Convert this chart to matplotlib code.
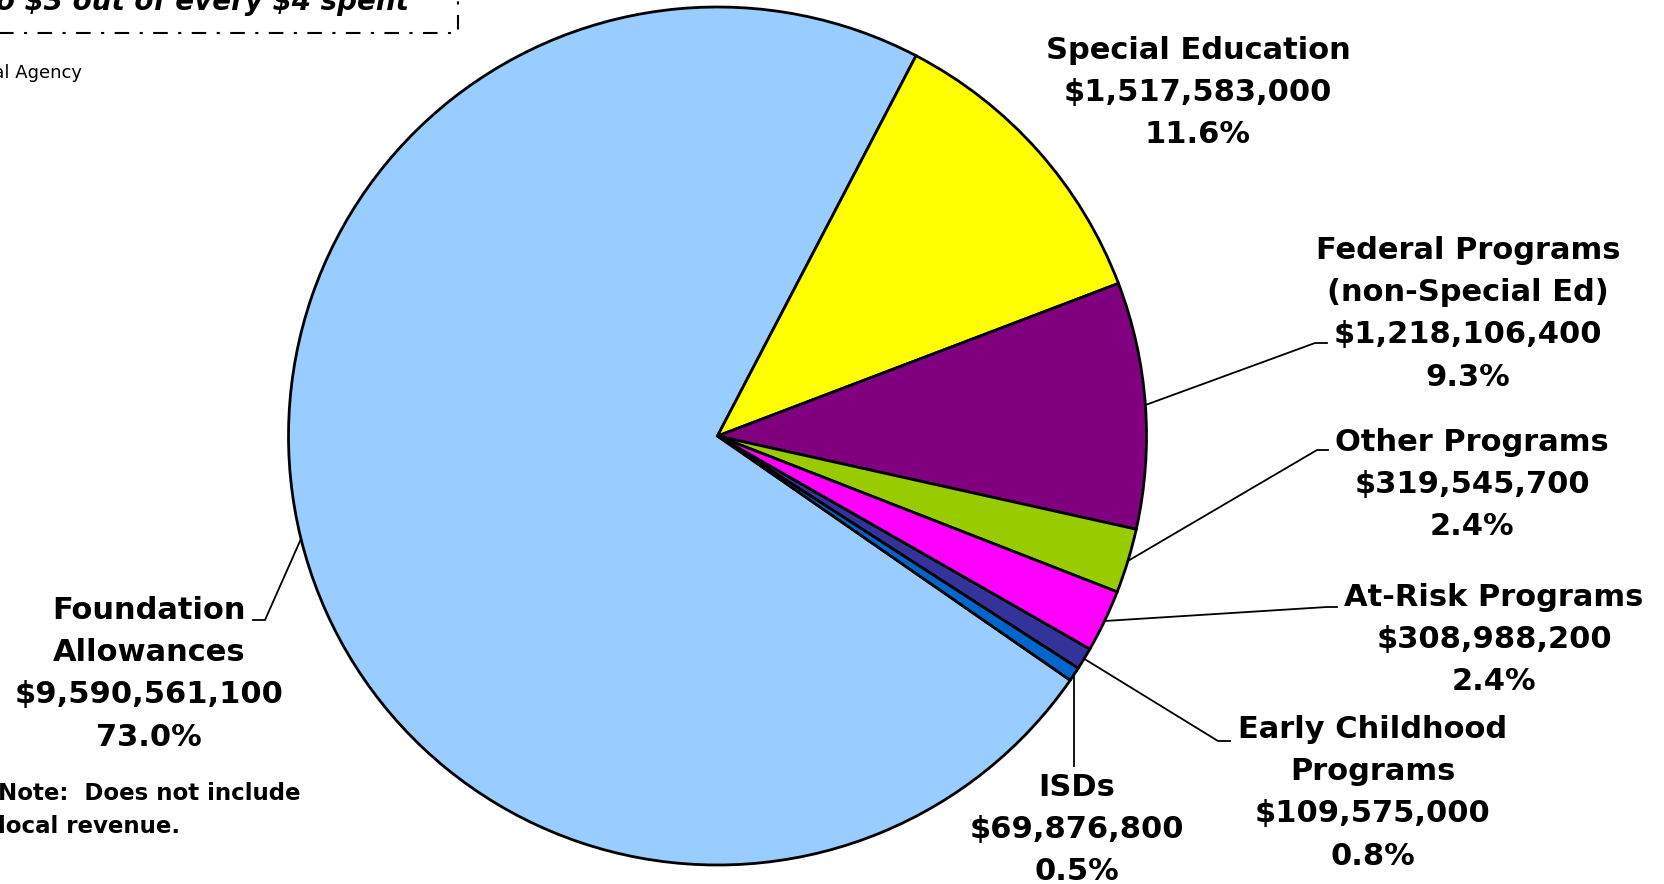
import numpy as np
import matplotlib
matplotlib.use("Agg")
import matplotlib.pyplot as plt
from matplotlib.patches import Rectangle

# ---------------- data ----------------
categories = ["Foundation\nAllowances", "Special Education", "Federal Programs\n(non-Special Ed)",
              "Other Programs", "At-Risk Programs", "Early Childhood\nPrograms", "ISDs"]
values = [9590561100, 1517583000, 1218106400, 319545700, 308988200, 109575000, 69876800]
colors = ["#99CCFF", "#FFFF00", "#800080", "#99CC00", "#FF00FF", "#333399", "#0066CC"]

title_text = r"Foundation allowances total close to \$3 out of every \$4 spent"
source_text = "Source: House Fiscal Agency"
note_lines = ["Note:  Does not include", "local revenue."]

# ---------------- layout (pixels, measured from top-left) ----------------
W, H = 1665, 884
center_px = (717.5, 436)
radius_px = 429
label_pos = [(149, 671), (1198, 90), (1468, 311), (1472, 482), (1494, 637), (1373, 790), (1077, 827)]
# leader: (elbow, end) in px from top; None = no leader; "v" = vertical drop
leader = [((265, 620), (253, 620)), None, ((1315, 343), (1327, 343)), ((1317, 450), (1328, 450)),
          ((1327, 607), (1337, 607)), ((1218, 741), (1230, 741)), ("v", 766)]
FS = 22
STEP = 42.3

fig = plt.figure(figsize=(W / 100, H / 100), dpi=100)
ax = fig.add_axes([0, 0, 1, 1])

def Y(y):
    return H - y

total = sum(values)
wedges, _ = ax.pie(values, colors=colors, startangle=-34.7, counterclock=False,
                   center=(center_px[0], Y(center_px[1])), radius=radius_px,
                   wedgeprops=dict(edgecolor="black", linewidth=2.0))
ax.set_xlim(0, W)
ax.set_ylim(0, H)
ax.set_aspect("equal")
ax.axis("off")

cap = 0.729 * FS * 100 / 72
for i, (name, v) in enumerate(zip(categories, values)):
    lines = name.split("\n") + [f"${v:,}", f"{v / total * 100:.1f}%"]
    cx, cy = label_pos[i]
    n = len(lines)
    for j, ln in enumerate(lines):
        ly = cy + (j - (n - 1) / 2) * STEP
        ax.text(cx, Y(ly + cap / 2), ln, ha="center", va="baseline", fontsize=FS,
                fontweight="bold", family="DejaVu Sans", color="black")
    # leader line
    ld = leader[i]
    if ld is None:
        continue
    w = wedges[i]
    mid = np.deg2rad((w.theta1 + w.theta2) / 2)
    ex = w.center[0] + w.r * np.cos(mid)
    ey = w.center[1] + w.r * np.sin(mid)
    if ld[0] == "v":
        ax.plot([ex, ex], [ey, Y(ld[1])], color="black", lw=1.3)
    else:
        (bx, by), (tx, ty) = ld
        ax.plot([ex, bx, tx], [ey, Y(by), Y(ty)], color="black", lw=1.3, solid_joinstyle="miter")

# title (partially off-canvas, as in the reference) and dash-dot box
ax.text(409, Y(10), title_text, ha="right", va="baseline", fontsize=20, fontweight="bold",
        fontstyle="italic", family="DejaVu Sans")
ax.add_patch(Rectangle((-20, Y(32.5)), 478, 120, fill=False, edgecolor="black", lw=1.5,
                       linestyle=(0, (7, 5, 1.5, 5))))
ax.text(82, Y(73), source_text, ha="right", va="center", fontsize=13, family="DejaVu Sans")

ncap = 0.729 * 16.5 * 100 / 72
for j, (ln, yy) in enumerate(zip(note_lines, [792, 825])):
    ax.text(-2, Y(yy + ncap / 2), ln, ha="left", va="baseline", fontsize=16.5, fontweight="bold",
            family="DejaVu Sans")

fig.savefig("out.png", dpi=100)
